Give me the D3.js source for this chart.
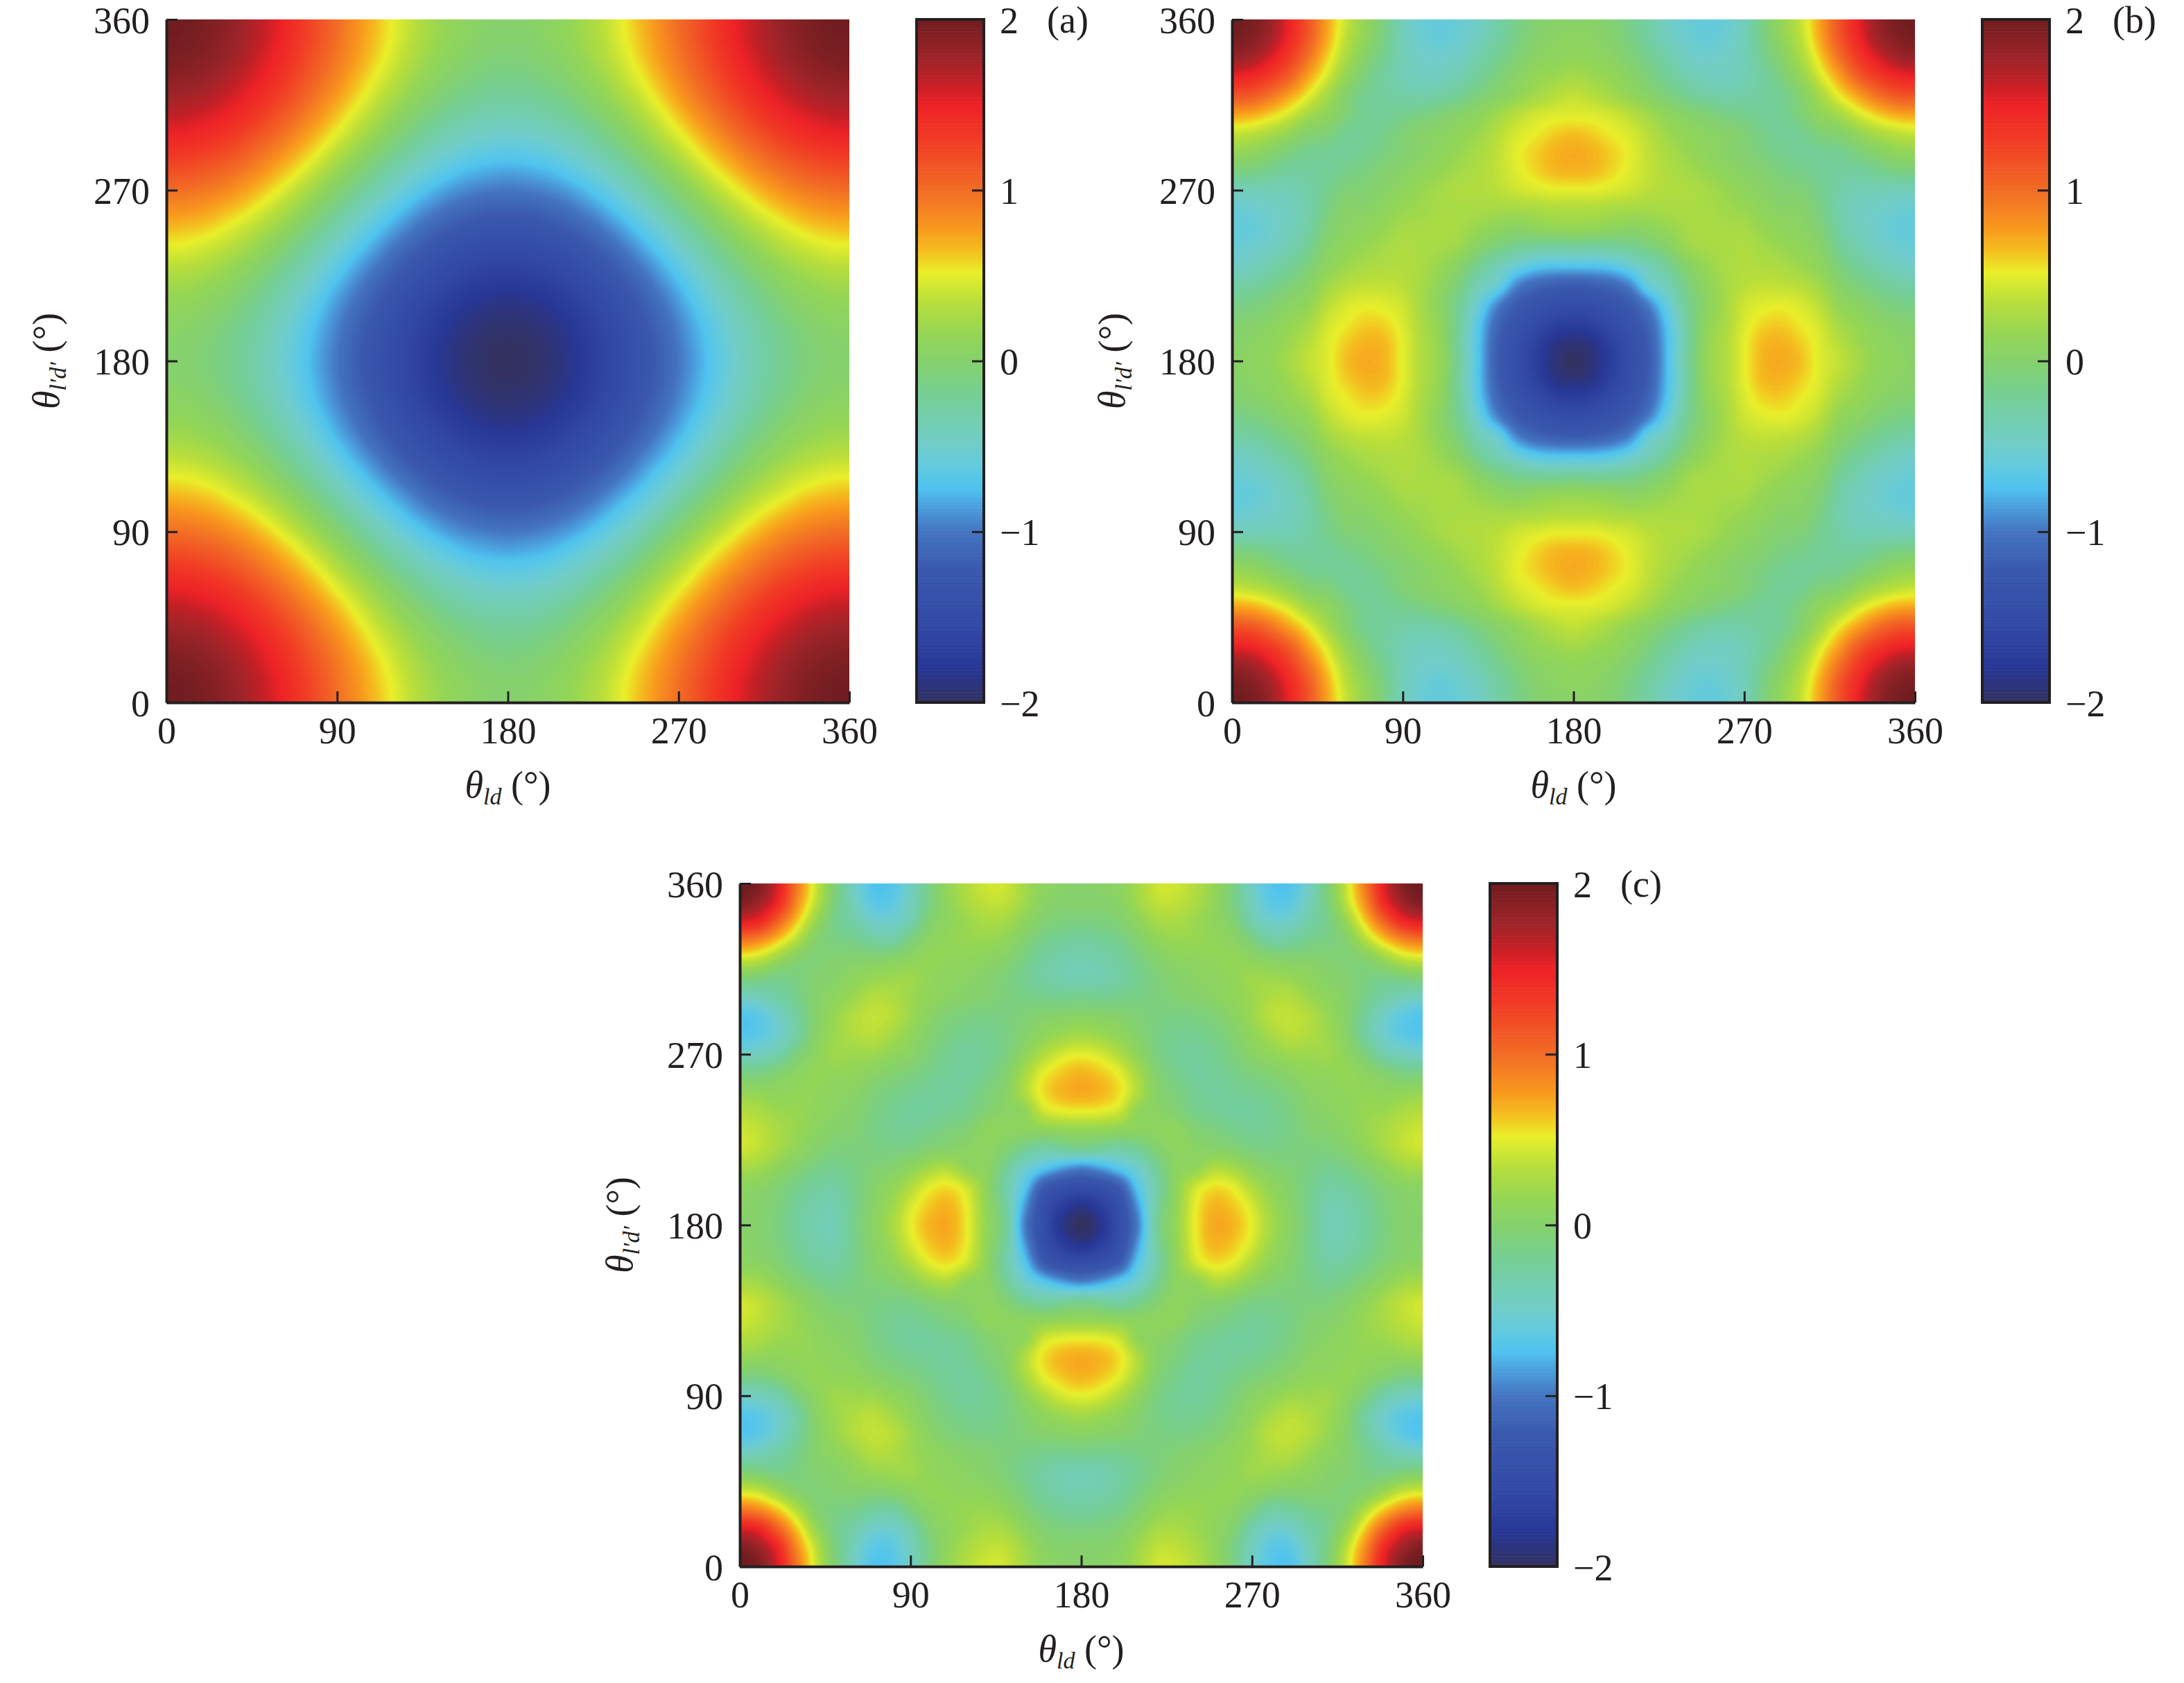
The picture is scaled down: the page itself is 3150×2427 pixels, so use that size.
<!DOCTYPE html>
<html><head><meta charset="utf-8">
<style>html,body{margin:0;background:#fff}svg{display:block}
text{font-family:"Liberation Serif","Times New Roman",serif;fill:#231f20}</style>
<script src="https://cdn.jsdelivr.net/npm/d3@7"></script></head><body>
<svg id="c" width="3150" height="2427"></svg>
<script>
// Every 10 deg. The three maps are mirror-symmetric about 180 deg
// and about the diagonal, so only rows with u >= v (u,v = 0..180 deg) are listed.
const panelA = [
[2,1.98,1.94,1.87,1.77,1.64,1.5,1.34,1.17,1,.83,.66,.5,.36,.23,.13,.06,.02,0],
[1.97,1.92,1.85,1.75,1.63,1.49,1.33,1.16,.98,.81,.64,.49,.34,.22,.12,.05,0,-.01],
[1.88,1.81,1.71,1.58,1.44,1.28,1.11,.94,.77,.6,.44,.3,.17,.07,0,-.04,-.06],
[1.73,1.63,1.51,1.37,1.21,1.04,.87,.69,.52,.37,.22,.1,0,-.07,-.12,-.13],
[1.53,1.41,1.27,1.11,.94,.77,.59,.42,.27,.12,0,-.1,-.17,-.22,-.23],
[1.29,1.14,.98,.82,.64,.47,.3,.14,0,-.12,-.22,-.3,-.34,-.36],
[1,.84,.67,.5,.33,.16,0,-.14,-.27,-.37,-.44,-.48,-.5],
[.68,.52,.34,.17,0,-.16,-.3,-.43,-.52,-.6,-.64,-.66],
[.35,.17,0,-.17,-.33,-.47,-.59,-.69,-.77,-.81,-.83],
[0,-.17,-.34,-.5,-.64,-.77,-.87,-.94,-.98,-1],
[-.35,-.52,-.67,-.82,-.94,-1.04,-1.11,-1.16,-1.17],
[-.68,-.84,-.98,-1.11,-1.21,-1.28,-1.33,-1.34],
[-1,-1.14,-1.27,-1.37,-1.44,-1.49,-1.5],
[-1.29,-1.41,-1.51,-1.58,-1.63,-1.64],
[-1.53,-1.63,-1.71,-1.75,-1.77],
[-1.73,-1.81,-1.85,-1.87],
[-1.88,-1.92,-1.94],
[-1.97,-1.98],
[-2]];
const panelB = [
[2,1.95,1.8,1.5,1.15,.75,.4,.15,-.1,-.4,-.55,-.6,-.55,-.47,-.3,-.15,-.03,.02,.03],
[1.9,1.75,1.45,1.12,.72,.36,.12,-.12,-.4,-.52,-.58,-.52,-.43,-.27,-.12,0,.05,.08],
[1.56,1.3,.97,.6,.28,.02,-.18,-.38,-.48,-.5,-.46,-.33,-.18,-.05,.05,.1,.13],
[1.08,.75,.45,.15,-.08,-.25,-.38,-.43,-.42,-.35,-.22,-.08,.05,.15,.2,.25],
[.52,.25,0,-.18,-.25,-.3,-.32,-.28,-.2,-.08,.03,.13,.24,.33,.38],
[.12,-.05,-.2,-.22,-.17,-.12,-.05,.02,.1,.22,.34,.43,.47,.48],
[-.18,-.22,-.15,-.05,.02,.05,.12,.2,.33,.45,.52,.6,.64],
[-.18,-.1,-.03,.03,.1,.18,.27,.37,.5,.6,.68,.72],
[-.02,.03,.1,.17,.24,.3,.38,.48,.58,.66,.68],
[.1,.18,.25,.3,.31,.35,.42,.46,.5,.5],
[.22,.26,.27,.27,.25,.25,.27,.3,.3],
[.28,.25,.17,.1,.05,.1,.13,.15],
[.2,.02,-.1,-.2,-.25,-.27,-.25],
[-.2,-.38,-.55,-.68,-.72,-.72],
[-.55,-.93,-1.1,-1.17,-1.2],
[-1.2,-1.33,-1.42,-1.45],
[-1.5,-1.65,-1.7],
[-1.85,-1.9],
[-2]];
const panelC = [
[2,1.92,1.55,.95,.42,-.05,-.45,-.72,-.7,-.47,-.1,.15,.32,.42,.42,.25,.08,.03,.02],
[1.78,1.45,.85,.37,-.08,-.4,-.65,-.65,-.42,-.12,.12,.28,.37,.37,.22,.05,0,0],
[1.07,.62,.18,-.15,-.3,-.48,-.5,-.33,-.02,.1,.2,.27,.25,.1,-.03,-.08,-.1],
[.32,0,-.1,-.15,-.25,-.28,-.08,.06,.13,.18,.18,.12,-.02,-.15,-.22,-.25],
[-.05,-.02,0,0,.03,.08,.15,.12,.1,.07,0,-.12,-.25,-.33,-.35],
[.02,.1,.17,.2,.22,.13,.08,.05,0,-.07,-.18,-.28,-.35,-.37],
[.2,.32,.3,.2,.12,.05,0,-.03,-.08,-.12,-.15,-.17,-.15],
[.38,.35,.2,.05,-.05,-.1,-.12,-.1,-.05,0,.03,.05],
[.25,.12,-.02,-.12,-.18,-.18,-.12,0,.12,.2,.25],
[.05,-.08,-.18,-.25,-.2,-.1,.1,.3,.45,.5],
[-.15,-.22,-.25,-.15,-.02,.25,.5,.62,.68],
[-.25,-.2,-.08,.02,.3,.56,.68,.72],
[-.15,-.03,.05,.12,.42,.5,.52],
[.1,.08,.08,.1,.13,.15],
[-.02,-.2,-.3,-.25,-.2],
[-.5,-.68,-.85,-.95],
[-1.2,-1.4,-1.45],
[-1.7,-1.85],
[-2]];
const angleStep = 10;
const thetaTicks = [0,90,180,270,360];
const barTicks = [-2,-1,0,1,2];
const panelNames = ["(a)","(b)","(c)"];
const stopValues = [-2,-1.8,-1.56,-1.23,-1,-.88,-.74,-.6,-.47,-.2,0,.16,.35,.52,.64,.78,1,1.3,1.5,1.62,1.76,2];
const stopColors = ["#33315f","#283795","#3249a5","#3a58ae","#4474c0","#4a96d8","#4fc3ef","#64cbdc","#72cdc5","#75cf95","#85d16c","#94d655","#b9de3a","#e9ef2a","#f4c01f","#f8981d","#f26c25","#f13a25","#ed2227","#c52026","#a02429","#6f1d20"];

const ink = "#231f20", plotSize = 985, barW = 97, barGap = 1082;
const color = d3.scaleLinear().domain(stopValues).range(stopColors).clamp(true);
const svg = d3.select("#c");
const layouts = [{x:240,y:28},{x:1777,y:28},{x:1067,y:1274}];
const levelStep = 0.02, levels = d3.range(-2.02, 2.02, levelStep);
const shade = 4; // shading cells per table cell: the surface is drawn smooth between read values

function reader(tri){
  const period = 360/angleStep;
  const fold = i => { const a = ((i%period)+period)%period; return a > period/2 ? period-a : a; };
  return (r,c) => { const p=fold(r), q=fold(c), lo=Math.min(p,q), hi=Math.max(p,q); return tri[lo][hi-lo]; };
}
function cubic(a,b,c,d,t){ return b + .5*t*(c-a + t*(2*a-5*b+4*c-d + t*(3*(b-c)+d-a))); }
function surface(tri){
  const at = reader(tri), cells = 360/angleStep, n = cells*shade+1, vals = new Float64Array(n*n);
  for(let j=0;j<n;j++){
    const r0=Math.floor(j/shade), tr=j/shade-r0;
    for(let i=0;i<n;i++){
      const c0=Math.floor(i/shade), tc=i/shade-c0, row=[];
      for(let k=-1;k<=2;k++) row.push(cubic(at(r0+k,c0-1),at(r0+k,c0),at(r0+k,c0+1),at(r0+k,c0+2),tc));
      vals[j*n+i]=cubic(row[0],row[1],row[2],row[3],tr);
    }
  }
  return {n, vals};
}
function styleAxis(g){
  g.select(".domain").attr("stroke",ink).attr("stroke-width",4).attr("fill","none");
  g.selectAll(".tick line").attr("stroke",ink).attr("stroke-width",3);
  g.selectAll("text").attr("fill",ink).style("font-size","54px");
}
function axisLabel(sel, sub){
  sel.style("font-size","54px");
  sel.append("tspan").attr("font-style","italic").text("\u03B8");
  sel.append("tspan").attr("font-style","italic").style("font-size","34px").attr("dy",10).text(sub);
  sel.append("tspan").attr("dy",-10).text(" (\u00B0)");
}
[panelA,panelB,panelC].forEach((tri,pi)=>{
  const L = layouts[pi];
  const g = svg.append("g").attr("transform",`translate(${L.x},${L.y})`);
  const x = d3.scaleLinear().domain([0,360]).range([0,plotSize]);
  const y = d3.scaleLinear().domain([0,360]).range([plotSize,0]);
  const {n, vals} = surface(tri);
  const clipId = "clip"+pi;
  g.append("clipPath").attr("id",clipId).append("rect").attr("width",plotSize).attr("height",plotSize);
  const map = g.append("g").attr("clip-path",`url(#${clipId})`);
  map.append("rect").attr("width",plotSize).attr("height",plotSize).attr("fill",color(-2));
  const proj = d3.geoTransform({point(px,py){
    this.stream.point(x((px-.5)*angleStep/shade), y((py-.5)*angleStep/shade));
  }});
  const path = d3.geoPath(proj);
  const contours = d3.contours().size([n,n]).smooth(true).thresholds(levels)(vals);
  map.selectAll("path").data(contours).join("path")
    .attr("d",path).attr("fill",d=>color(d.value+levelStep/2));

  const ax = g.append("g").attr("transform",`translate(0,${plotSize})`)
    .call(d3.axisBottom(x).tickValues(thetaTicks).tickSizeInner(-16).tickSizeOuter(0).tickFormat(d3.format("d")));
  styleAxis(ax);
  ax.selectAll("text").attr("y",59).attr("dy",0);
  const ay = g.append("g")
    .call(d3.axisLeft(y).tickValues(thetaTicks).tickSizeInner(-16).tickSizeOuter(0).tickFormat(d3.format("d")));
  styleAxis(ay);
  ay.selectAll("text").attr("x",-24).attr("dy",0).attr("y",19);

  g.append("text").attr("text-anchor","middle").attr("x",plotSize/2).attr("y",plotSize+137).call(axisLabel,"ld");
  g.append("text").attr("text-anchor","middle").attr("transform",`translate(-155,${plotSize/2}) rotate(-90)`).call(axisLabel,"l\u2032d\u2032");

  // colour bar
  const bar = g.append("g").attr("transform",`translate(${barGap},0)`);
  const by = d3.scaleLinear().domain([-2,2]).range([plotSize,0]);
  const barLevels = d3.range(-2,2,0.01);
  bar.selectAll("rect").data(barLevels).join("rect")
    .attr("x",0).attr("width",barW).attr("y",d=>by(d+0.01)).attr("height",d=>by(d)-by(d+0.01)+0.6)
    .attr("fill",d=>color(d+0.005));
  bar.append("rect").attr("width",barW).attr("height",plotSize).attr("fill","none").attr("stroke",ink).attr("stroke-width",4);
  const bax = bar.append("g").attr("transform",`translate(${barW},0)`)
    .call(d3.axisRight(by).tickValues(barTicks).tickSizeInner(-17).tickSizeOuter(0).tickFormat(d=>d<0?"\u2212"+(-d):d));
  styleAxis(bax);
  bax.select(".domain").attr("stroke","none");
  bax.selectAll("text").attr("x",23).attr("dy",0).attr("y",19);
  g.append("text").attr("x",1270).attr("y",19).style("font-size","54px").text(panelNames[pi]);
});
</script></body></html>
